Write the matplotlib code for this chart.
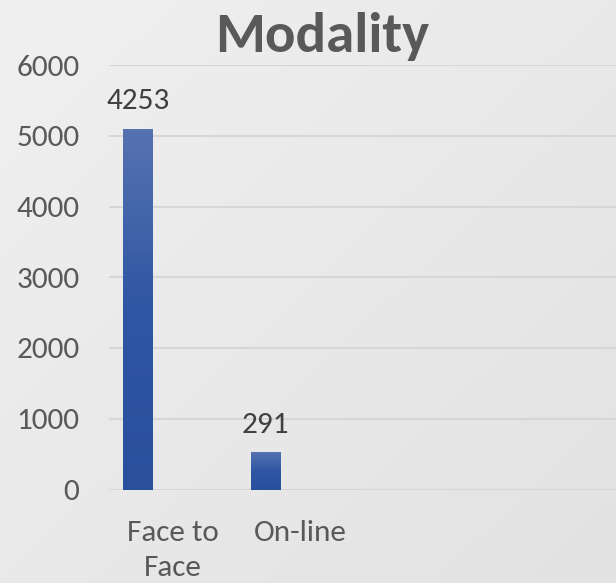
import numpy as np
import matplotlib
matplotlib.use("Agg")
import matplotlib.pyplot as plt
from matplotlib.colors import LinearSegmentedColormap

# ---- data ----
categories = ["Face to\nFace", "On-line"]
values = [5100, 530]
value_labels = ["4253", "291"]
yticks = [0, 1000, 2000, 3000, 4000, 5000, 6000]
title = "Modality"

plt.rcParams['font.family'] = ['Carlito', 'Open Sans', 'DejaVu Sans']

W, H = 616, 583
fig = plt.figure(figsize=(W / 100, H / 100), dpi=100)

# background gradient
bg = fig.add_axes([0, 0, 1, 1], zorder=-10)
yy, xx = np.mgrid[0:1:200j, 0:1:200j]
grad = 0.5 * xx + 0.5 * yy
bg_cmap = LinearSegmentedColormap.from_list("bg", ["#f0f0f0", "#e2e2e2"])
bg.imshow(grad, cmap=bg_cmap, aspect='auto', extent=[0, 1, 0, 1], origin='upper')
bg.set_axis_off()

x0, x1 = 109.25, 616
y_top, y_bot = 65, 489.5
ax = fig.add_axes([x0 / W, 1 - y_bot / H, (x1 - x0) / W, (y_bot - y_top) / H])
ax.patch.set_alpha(0)

cat_px = 173.0
cat_step = 127.5
bar_off = -35.0 / cat_step
bar_w = 30.0 / cat_step
xpos = np.arange(len(categories))

bars = ax.bar(xpos + bar_off, values, width=bar_w, color='#3a5ca8', zorder=3)
bar_cmap = LinearSegmentedColormap.from_list("bar", ["#2a509c", "#2f56a3", "#5672b0"])
for b in bars:
    bx, by = b.get_x(), b.get_y()
    bw, bh = b.get_width(), b.get_height()
    g = np.linspace(0, 1, 256).reshape(-1, 1)
    im = ax.imshow(g, cmap=bar_cmap, aspect='auto', origin='lower',
                   extent=[bx, bx + bw, by, by + bh], zorder=4)
    im.set_clip_path(b)
    b.set_facecolor('none')

ax.set_xlim(-0.5, (x1 - cat_px) / cat_step)
ax.set_ylim(0, 6000)

ax.set_yticks(yticks)
ax.set_yticklabels([str(v) for v in yticks])
ax.yaxis.grid(True, color='#d6d6d6', linewidth=1.5, zorder=0)
ax.set_axisbelow(True)
for s in ax.spines.values():
    s.set_visible(False)
ax.tick_params(axis='y', length=0, pad=21.5, labelsize=22.5, labelcolor='#595959')
ax.set_xticks(xpos)
ax.set_xticklabels(categories, linespacing=1.42)
ax.tick_params(axis='x', length=0, pad=22, labelsize=22.5, labelcolor='#595959')

for b, lab in zip(bars, value_labels):
    ax.annotate(lab, (b.get_x() + b.get_width() / 2, b.get_height()),
                xytext=(0, 14), textcoords='offset points',
                ha='center', va='baseline', fontsize=22.5, color='#404040')

fig.text(321.7 / W, 1 - 52 / H, title, ha='center', va='baseline',
         fontsize=41, fontweight='bold', color='#595959')

fig.savefig("out.png", dpi=100)
